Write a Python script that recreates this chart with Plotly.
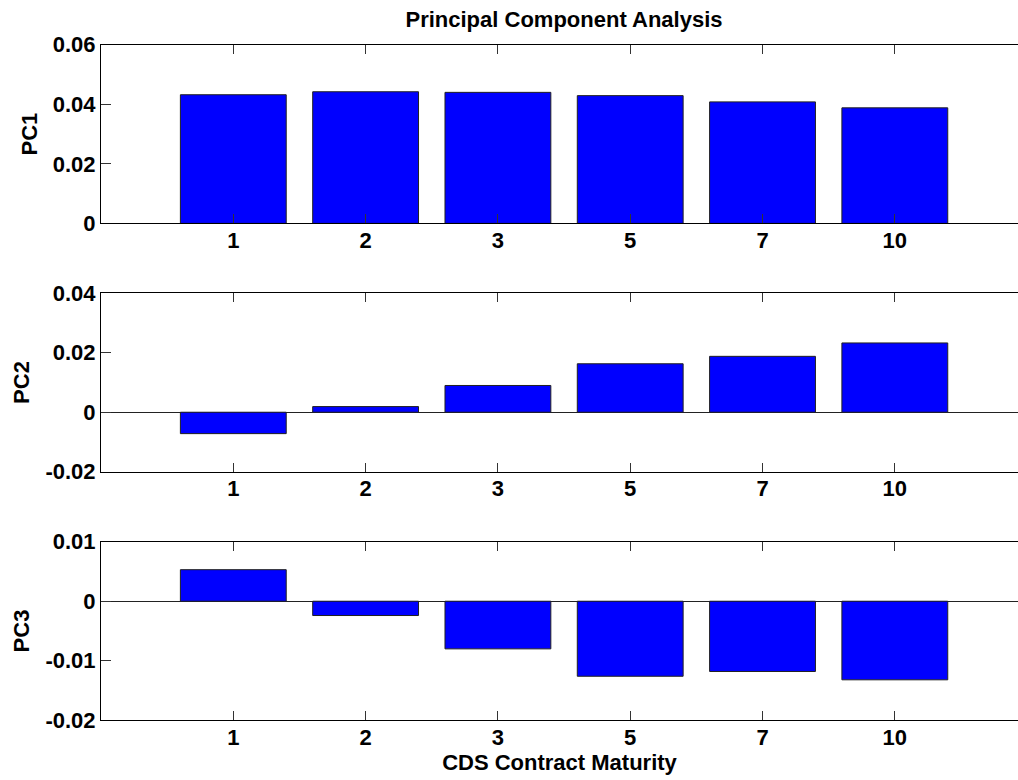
import plotly.graph_objects as go

# CDS contract maturities (years) and principal component loadings
maturities = ["1", "2", "3", "5", "7", "10"]
pc1 = [0.0432, 0.0442, 0.0440, 0.0429, 0.0408, 0.0388]
pc2 = [-0.0072, 0.0019, 0.0090, 0.0163, 0.0188, 0.0233]
pc3 = [0.0053, -0.0024, -0.0080, -0.0126, -0.0118, -0.0132]

pc1_ticks = [0, 0.02, 0.04, 0.06]
pc1_ticktext = ["0", "0.02", "0.04", "0.06"]
pc2_ticks = [-0.02, 0, 0.02, 0.04]
pc2_ticktext = ["-0.02", "0", "0.02", "0.04"]
pc3_ticks = [-0.02, -0.01, 0, 0.01]
pc3_ticktext = ["-0.02", "-0.01", "0", "0.01"]

W, H = 1018, 780
LEFT = 101
FONT = dict(family="Liberation Sans, Arial, Helvetica, sans-serif", size=22,
            color="black", weight="bold")


def dom(top_px, bottom_px):
    return [1 - bottom_px / H, 1 - top_px / H]


panels = [
    ("PC1", pc1, pc1_ticks, pc1_ticktext, [0, 0.06], dom(44.7, 223.4)),
    ("PC2", pc2, pc2_ticks, pc2_ticktext, [-0.02, 0.04], dom(293.3, 471.7)),
    ("PC3", pc3, pc3_ticks, pc3_ticktext, [-0.02, 0.01], dom(541.7, 720.3)),
]

fig = go.Figure()
for i, (name, vals, tv, tt, rng, ydom) in enumerate(panels, start=1):
    suffix = "" if i == 1 else str(i)
    fig.add_trace(go.Bar(
        x=maturities, y=vals, width=0.8,
        marker=dict(color="#0000FF", line=dict(color="#202020", width=1)),
        xaxis="x" + suffix, yaxis="y" + suffix, showlegend=False,
    ))
    fig.update_layout(**{
        "xaxis" + suffix: dict(
            domain=[0, 1], anchor="y" + suffix, type="category",
            categoryorder="array", categoryarray=maturities,
            range=[-1, 5.931], showline=True, linecolor="black", linewidth=1,
            mirror="ticks", ticks="inside", ticklen=9, tickcolor="#333",
            showgrid=False, zeroline=False, tickfont=FONT,
            ticklabelstandoff=-3,
            title=dict(text="CDS Contract Maturity" if i == 3 else "",
                       font=FONT, standoff=0),
        ),
        "yaxis" + suffix: dict(
            domain=ydom, anchor="x" + suffix, range=rng,
            tickvals=tv, ticktext=tt, showline=True, linecolor="black",
            linewidth=1, ticks="inside", ticklen=10, tickcolor="#333",
            showgrid=False, zeroline=True, zerolinecolor="#222",
            zerolinewidth=1, tickfont=FONT,
            title=dict(text=name, font=FONT, standoff=9),
        ),
    })

fig.update_layout(
    width=W, height=H,
    margin=dict(l=LEFT, r=0, t=0, b=0, autoexpand=False),
    paper_bgcolor="white", plot_bgcolor="white",
    title=dict(text="Principal Component Analysis", font=FONT,
               x=564 / W, xanchor="center", xref="container",
               y=1 - 19 / H, yanchor="middle"),
    bargap=0.2,
)

fig.write_html("out.html")
